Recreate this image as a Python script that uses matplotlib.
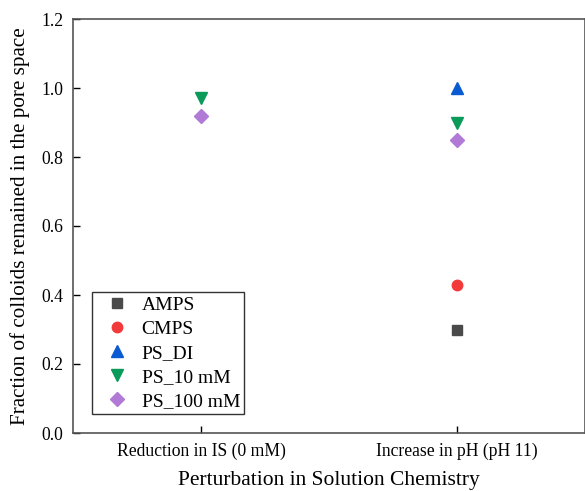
import numpy as np
import matplotlib.pyplot as plt

plt.rcParams['font.family'] = ['Liberation Serif', 'DejaVu Serif']

categories = ['Reduction in IS (0 mM)', 'Increase in pH (pH 11)']
series = ['AMPS', 'CMPS', 'PS_DI', 'PS_10 mM', 'PS_100 mM']
# NaN where a series has no point for that perturbation
amps = [np.nan, 0.30]
cmps = [np.nan, 0.43]
ps_di = [np.nan, 1.00]
ps_10 = [0.97, 0.90]
ps_100 = [0.92, 0.85]

values = [amps, cmps, ps_di, ps_10, ps_100]
markers = ['s', 'o', '^', 'v', 'D']
colors = ['#4a4a4a', '#f23a3a', '#0a5ad2', '#0a9a5a', '#b07ad6']
sizes = [7, 7.5, 8.5, 8.5, 7]

fig = plt.figure(figsize=(5.85, 4.91), dpi=100)
ax = fig.add_axes([73/585, 58/491, 512/585, 414/491])

x = np.arange(1, len(categories) + 1)
for name, vals, m, c, s in zip(series, values, markers, colors, sizes):
    ax.plot(x, vals, linestyle='none', marker=m, color=c, markersize=s, label=name)

ax.set_xlim(0.5, 2.5)
ax.set_ylim(0, 1.2)
ax.set_xticks(x)
ax.set_xticklabels(categories, fontsize=12.7)
ax.set_yticks(np.arange(0, 1.21, 0.2))
ax.set_yticklabels([f'{v:.1f}' for v in np.arange(0, 1.21, 0.2)], fontsize=12.7)
ax.tick_params(direction='in', length=5, width=1, pad=7)
for sp in ax.spines.values():
    sp.set_color('#555555')
    sp.set_linewidth(1.2)

ax.set_xlabel('Perturbation in Solution Chemistry', fontsize=15.5, labelpad=8)
ax.set_ylabel('Fraction of colloids remained in the pore space', fontsize=15.2, labelpad=8)

leg = ax.legend(loc='lower left', bbox_to_anchor=(0.037, 0.046), fontsize=14,
                fancybox=False, edgecolor='#333333', framealpha=1,
                handlelength=2.2, handletextpad=0.15, borderpad=0.2,
                labelspacing=0.33, borderaxespad=0)
leg.get_frame().set_linewidth(1)

fig.savefig('out.png', dpi=100)
